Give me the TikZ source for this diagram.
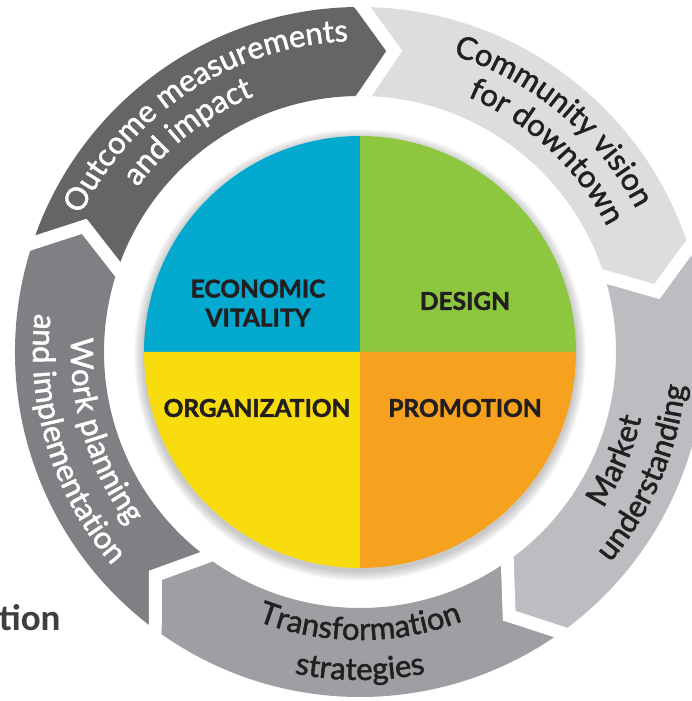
\documentclass[tikz,border=0pt]{standalone}
\usepackage{fontspec}
\setmainfont{Lato}
\newfontfamily\ringfamily{Lato}[FakeBold=1.6]
\newfontfamily\piefamily{Lato}[FakeBold=1.8]
\newfontfamily\tagfont{Carlito}
\usetikzlibrary{decorations.text}

\definecolor{ecocyan}{HTML}{04A9CF}
\definecolor{desgreen}{HTML}{8DC63F}
\definecolor{orgyellow}{HTML}{F9DC0E}
\definecolor{promorange}{HTML}{F6A21E}
\definecolor{segOutcome}{HTML}{646567}
\definecolor{segVision}{HTML}{DCDDDE}
\definecolor{segMarket}{HTML}{BCBDC0}
\definecolor{segTransform}{HTML}{9E9FA2}
\definecolor{segWork}{HTML}{7F8083}
\definecolor{inktext}{HTML}{231F20}
\definecolor{tagtext}{HTML}{3F3F3F}

\newcommand\ringtext{\ringfamily\fontsize{31}{36}\selectfont}
\newcommand\pietext{\piefamily\bfseries\fontsize{24.5}{29}\selectfont}

\begin{document}
\begin{tikzpicture}[x=1pt,y=1pt,
  quadlabel/.style={inner sep=0pt, align=center, text=inktext, font=\pietext},
  outlabel/.style={decorate, decoration={text along path, text align=center, text={#1}}},
]
\useasboundingbox (-360,-349) rectangle (332,352);
\def\rin{256}\def\rout{345}\def\rmid{303}\def\tipd{7.5}

% one chevron-shaped ring segment: start angle, end angle (clockwise), colour
\newcommand\ringseg[3]{%
  \fill[#3] (#1:\rout) arc[start angle=#1, end angle=#2, radius=\rout]
    -- ({#2-\tipd}:\rmid) -- (#2:\rin)
    arc[start angle=#2, end angle=#1, radius=\rin]
    -- ({#1-\tipd}:\rmid) -- cycle;}
% white separating chevron between two segments
\newcommand\ringgap[1]{%
  \draw[white, line width=13pt, line join=miter]
    (#1:{\rout+12}) -- ({#1-\tipd}:\rmid) -- (#1:{\rin-12});}

% ring of five arrows, clockwise
\ringseg{163}{91}{segOutcome}
\ringseg{91}{19}{segVision}
\ringseg{19}{-53}{segMarket}
\ringseg{-53}{-125}{segTransform}
\ringseg{-125}{-197}{segWork}
\foreach \b in {91,19,-53,-125,163} {\ringgap{\b}}

% ring captions (clockwise paths: letters face outwards)
\path[outlabel={|\ringtext\color{white}|Outcome measurements}]
  (158:311) arc[start angle=158, end angle=88, radius=311];
\path[outlabel={|\ringtext\color{white}|and impact}]
  (163:277) arc[start angle=163, end angle=93, radius=277];
\path[outlabel={|\ringtext\color{inktext}|Community vision}]
  (85:311) arc[start angle=85, end angle=15, radius=311];
\path[outlabel={|\ringtext\color{inktext}|for downtown}]
  (82:277) arc[start angle=82, end angle=12, radius=277];
% counter-clockwise paths: letters face the centre
\path[outlabel={|\ringtext\color{inktext}|Market}]
  (-58:289) arc[start angle=-58, end angle=12, radius=289];
\path[outlabel={|\ringtext\color{inktext}|understanding}]
  (-58:327) arc[start angle=-58, end angle=12, radius=327];
\path[outlabel={|\ringtext\color{inktext}|Transformation}]
  (-140:288) arc[start angle=-140, end angle=-40, radius=288];
\path[outlabel={|\ringtext\color{inktext}|strategies}]
  (-140:328) arc[start angle=-140, end angle=-40, radius=328];
\path[outlabel={|\ringtext\color{white}|Work planning}]
  (152:289) arc[start angle=152, end angle=242, radius=289];
\path[outlabel={|\ringtext\color{white}|and implementation}]
  (152:327) arc[start angle=152, end angle=242, radius=327];

% soft shadow under the centre disc
\foreach \i in {1,...,10} {\fill[black, opacity=0.025] (0,-3) circle[radius={216+\i}];}

% centre disc in four quarters
\fill[ecocyan]    (0,0) -- (180:216) arc[start angle=180, end angle=90,  radius=216] -- cycle;
\fill[desgreen]   (0,0) -- (90:216)  arc[start angle=90,  end angle=0,   radius=216] -- cycle;
\fill[promorange] (0,0) -- (0:216)   arc[start angle=0,   end angle=-90, radius=216] -- cycle;
\fill[orgyellow]  (0,0) -- (-90:216) arc[start angle=-90, end angle=-180,radius=216] -- cycle;

\node[quadlabel] (eco)  at (-102,49)  {ECONOMIC\\VITALITY};
\node[quadlabel] (des)  at (105,51)   {DESIGN};
\node[quadlabel] (org)  at (-103,-56) {ORGANIZATION};
\node[quadlabel] (prom) at (105,-56)  {PROMOTION};

% word tail at the lower left edge
\node[anchor=base west, inner sep=0pt, text=tagtext, font=\tagfont\bfseries\fontsize{37}{40}\selectfont]
  (tail) at (-361,-278) {tion};
\end{tikzpicture}
\end{document}
